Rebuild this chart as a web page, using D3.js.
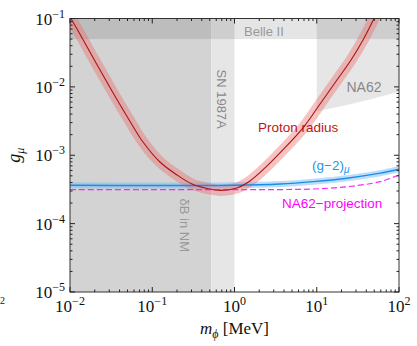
<!DOCTYPE html>
<html>
<head>
<meta charset="utf-8">
<script src="https://cdn.jsdelivr.net/npm/d3@7"></script>
<style>
  body { margin: 0; background: #fff; }
  .sans { font-family: "Liberation Sans", Arial, sans-serif; }
  .serif { font-family: "Liberation Serif", "Times New Roman", serif; }
</style>
</head>
<body>
<svg id="chart" width="417" height="346"></svg>
<script>
// axis ranges
const massDomain = [1e-2, 1e2];
const couplingDomain = [1e-5, 1e-1];
const xDecades = [-2, -1, 0, 1, 2];
const yDecades = [-5, -4, -3, -2, -1];

// excluded regions
const deltaBMax = 0.52;      // delta B in NM, from 1e-2 up to this mass
const snMax = 1.0;           // SN 1987A, up to this mass
const belleLow = 0.05;       // Belle II, above this coupling
const na62Mass  = [10, 14.6, 23.4, 59, 100];
const na62Lower = [4.34e-3, 4.83e-3, 5.43e-3, 7.19e-3, 8.51e-3];

// proton radius curve
const protonMass = [0.009, 0.01, 0.0201, 0.0324, 0.0507, 0.0772, 0.124, 0.2, 0.304, 0.463, 0.686, 1.07, 1.54, 2.35, 3.57, 6.81, 10.96, 17.6, 26.1, 36.5, 49.7, 55];
const protonG    = [0.125, 0.105, 0.0239, 8.71e-3, 3.51e-3, 1.56e-3, 7.97e-4, 5.15e-4, 3.80e-4, 3.27e-4, 3.06e-4, 3.32e-4, 4.21e-4, 6.52e-4, 1.08e-3, 2.51e-3, 5.62e-3, 0.0126, 0.0247, 0.0485, 0.1, 0.13];

// (g-2)_mu
const g2Mass = [0.01, 1, 3.59, 9.03, 23.4, 59, 100];
const g2G    = [3.64e-4, 3.64e-4, 3.80e-4, 4.11e-4, 4.61e-4, 5.46e-4, 6.24e-4];

// NA62 projection
const projMass = [0.01, 1, 3.59, 9.03, 23.4, 59, 100];
const projG    = [3.14e-4, 3.14e-4, 3.15e-4, 3.21e-4, 3.47e-4, 4.11e-4, 5.15e-4];

const margin = {top: 18.5, right: 18, bottom: 54, left: 70};
const width = 417 - margin.left - margin.right;
const height = 346 - margin.top - margin.bottom;

const svg = d3.select('#chart');
const g = svg.append('g').attr('transform', 'translate(' + margin.left + ',' + margin.top + ')');

const x = d3.scaleLog().domain(massDomain).range([0, width]);
const y = d3.scaleLog().domain(couplingDomain).range([height, 0]);

g.append('clipPath').attr('id', 'plotclip')
  .append('rect').attr('width', width).attr('height', height);
const plot = g.append('g').attr('clip-path', 'url(#plotclip)');

// regions
plot.append('rect')
  .attr('x', x(massDomain[0])).attr('y', 0)
  .attr('width', x(deltaBMax) - x(massDomain[0])).attr('height', height)
  .attr('fill', '#d3d3d3');
plot.append('rect')
  .attr('x', x(deltaBMax)).attr('y', 0)
  .attr('width', x(snMax) - x(deltaBMax)).attr('height', height)
  .attr('fill', '#e6e6e6');

const na62Data = na62Mass.map((m, i) => [m, na62Lower[i]]);
const na62Area = d3.area()
  .x(d => x(d[0]))
  .y0(y(couplingDomain[1]))
  .y1(d => y(d[1]))
  .curve(d3.curveMonotoneX);
plot.append('path').datum(na62Data).attr('d', na62Area).attr('fill', '#e6e6e6');

plot.append('rect')
  .attr('x', 0).attr('y', 0)
  .attr('width', width).attr('height', y(belleLow))
  .attr('fill', '#000').attr('fill-opacity', 0.1);

// region labels
plot.append('text').attr('class', 'sans')
  .attr('x', 174).attr('y', 17.5)
  .attr('font-size', 13).attr('fill', '#999').text('Belle II');
plot.append('text').attr('class', 'sans')
  .attr('x', 276.5).attr('y', 73.2)
  .attr('font-size', 14).attr('fill', '#888').text('NA62');
plot.append('text').attr('class', 'sans')
  .attr('transform', 'translate(147,51) rotate(90)')
  .attr('font-size', 13).attr('fill', '#888').text('SN 1987A');
plot.append('text').attr('class', 'sans')
  .attr('transform', 'translate(110,180) rotate(90)')
  .attr('font-size', 13).attr('fill', '#999').text('δB in NM');

// curves
const line = d3.line().x(d => x(d[0])).y(d => y(d[1])).curve(d3.curveCatmullRom);
const protonData = protonMass.map((m, i) => [m, protonG[i]]);
const g2Data = g2Mass.map((m, i) => [m, g2G[i]]);
const projData = projMass.map((m, i) => [m, projG[i]]);

plot.append('path').datum(g2Data).attr('d', line)
  .attr('fill', 'none').attr('stroke', 'rgb(120,190,245)').attr('stroke-opacity', 0.5).attr('stroke-width', 6);
plot.append('path').datum(protonData).attr('d', line)
  .attr('fill', 'none').attr('stroke', 'rgb(235,110,110)').attr('stroke-opacity', 0.42).attr('stroke-width', 11);
plot.append('path').datum(projData).attr('d', line)
  .attr('fill', 'none').attr('stroke', '#ff22ff').attr('stroke-width', 1.2).attr('stroke-dasharray', '6,3');
plot.append('path').datum(g2Data).attr('d', line)
  .attr('fill', 'none').attr('stroke', 'rgb(30,140,230)').attr('stroke-width', 1.3);
plot.append('path').datum(protonData).attr('d', line)
  .attr('fill', 'none').attr('stroke', 'rgb(170,20,20)').attr('stroke-width', 1.1);

// curve labels
plot.append('text').attr('class', 'sans')
  .attr('x', 188).attr('y', 113.5)
  .attr('font-size', 13.5).attr('fill', 'rgb(190,20,20)').text('Proton radius');
const g2Label = plot.append('text').attr('class', 'sans')
  .attr('x', 242).attr('y', 151)
  .attr('font-size', 13.5).attr('fill', 'rgb(40,150,235)');
g2Label.append('tspan').text('(g\u22122)');
g2Label.append('tspan').attr('dy', 3).attr('font-size', 10).attr('font-style', 'italic').text('μ');
plot.append('text').attr('class', 'sans')
  .attr('x', 212).attr('y', 189)
  .attr('font-size', 13.5).attr('fill', '#ff00ff').text('NA62\u2212projection');

// frame and ticks
g.append('rect').attr('width', width).attr('height', height)
  .attr('fill', 'none').attr('stroke', '#333').attr('stroke-width', 1);

const isMajor = v => Math.abs(Math.log10(v) - Math.round(Math.log10(v))) < 1e-6;
const xTicks = x.ticks();
const yTicks = y.ticks();
const tickLen = v => isMajor(v) ? 5 : 2.5;

const ticks = g.append('g').attr('stroke', '#222').attr('stroke-width', 1);
xTicks.forEach(v => {
  const px = x(v);
  ticks.append('line').attr('x1', px).attr('x2', px).attr('y1', height).attr('y2', height - tickLen(v));
  ticks.append('line').attr('x1', px).attr('x2', px).attr('y1', 0).attr('y2', tickLen(v));
});
yTicks.forEach(v => {
  const py = y(v);
  ticks.append('line').attr('x1', 0).attr('x2', tickLen(v)).attr('y1', py).attr('y2', py);
  ticks.append('line').attr('x1', width).attr('x2', width - tickLen(v)).attr('y1', py).attr('y2', py);
});

// tick labels
function powLabel(sel, p) {
  sel.append('tspan').text('10');
  sel.append('tspan').attr('dy', -7).attr('font-size', 12).text(p < 0 ? '\u2212' + (-p) : String(p));
}
xDecades.forEach(p => {
  const t = g.append('text').attr('class', 'serif')
    .attr('x', x(Math.pow(10, p))).attr('y', height + 20)
    .attr('text-anchor', 'middle').attr('font-size', 17).attr('fill', '#111');
  powLabel(t, p);
});
yDecades.forEach(p => {
  const t = g.append('text').attr('class', 'serif')
    .attr('x', -5).attr('y', y(Math.pow(10, p)) + 6)
    .attr('text-anchor', 'end').attr('font-size', 17).attr('fill', '#111');
  powLabel(t, p);
});

// axis titles
const xt = g.append('text').attr('class', 'serif')
  .attr('x', width / 2).attr('y', height + 42)
  .attr('text-anchor', 'middle').attr('font-size', 17).attr('fill', '#111');
xt.append('tspan').attr('font-style', 'italic').text('m');
xt.append('tspan').attr('font-style', 'italic').attr('font-size', 12).attr('dy', 4).text('ϕ');
xt.append('tspan').attr('dy', -4).text(' [MeV]');

const yt = g.append('text').attr('class', 'serif')
  .attr('transform', 'translate(' + (-50) + ',' + (height / 2) + ') rotate(-90)')
  .attr('text-anchor', 'middle').attr('font-size', 18).attr('fill', '#111');
yt.append('tspan').attr('font-style', 'italic').text('g');
yt.append('tspan').attr('font-style', 'italic').attr('font-size', 12).attr('dy', 4).text('μ');

// glyph of the neighbouring panel at the left edge
svg.append('text').attr('class', 'serif')
  .attr('x', 0).attr('y', 304).attr('font-size', 10).attr('fill', '#111').text('2');
</script>
</body>
</html>
